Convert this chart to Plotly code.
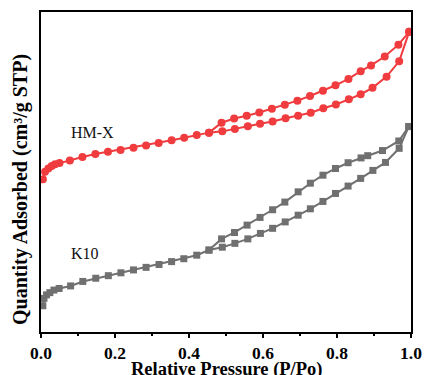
import plotly.graph_objects as go

# N2 sorption isotherms: relative pressure vs. quantity adsorbed (arbitrary units)
hmx_ads_p = [0.005, 0.011, 0.02, 0.029, 0.038, 0.05, 0.078, 0.112, 0.147, 0.181, 0.215, 0.25,
             0.284, 0.318, 0.353, 0.387, 0.421, 0.454, 0.49, 0.524, 0.559, 0.592, 0.626, 0.661,
             0.695, 0.729, 0.763, 0.797, 0.832, 0.864, 0.896, 0.934, 0.968, 0.995]
hmx_ads_q = [47.7, 50.1, 51.1, 51.9, 52.4, 52.8, 53.6, 54.7, 55.6, 56.3, 56.9, 57.6,
             58.3, 59.1, 59.9, 60.7, 61.6, 62.3, 62.7, 63.4, 64.3, 65.1, 65.8, 66.8,
             67.6, 68.5, 69.9, 71.1, 72.7, 74.3, 76.3, 79.8, 84.6, 93.8]
hmx_des_p = [0.995, 0.966, 0.929, 0.892, 0.864, 0.831, 0.796, 0.762, 0.727, 0.693, 0.659,
             0.624, 0.59, 0.556, 0.522, 0.488, 0.454]
hmx_des_q = [93.8, 89.8, 86.1, 83.3, 81.5, 79.1, 77.1, 75.4, 73.75, 72.3, 71.0,
             69.8, 68.6, 67.6, 66.7, 65.4, 62.3]

k10_ads_p = [0.005, 0.008, 0.015, 0.024, 0.035, 0.049, 0.08, 0.113, 0.148, 0.182, 0.216, 0.25,
             0.284, 0.319, 0.353, 0.386, 0.421, 0.454, 0.49, 0.524, 0.559, 0.593, 0.626, 0.66,
             0.695, 0.728, 0.762, 0.796, 0.83, 0.864, 0.897, 0.931, 0.968, 0.994]
k10_ads_q = [8.2, 10.5, 11.6, 12.3, 13.1, 13.6, 14.4, 15.8, 16.8, 17.6, 18.5, 19.4,
             20.2, 21.1, 22.0, 22.9, 24.0, 25.6, 26.5, 27.7, 29.1, 30.8, 32.4, 34.4,
             36.5, 38.5, 40.8, 43.3, 45.6, 48.0, 50.5, 53.0, 57.4, 64.2]
k10_des_p = [0.994, 0.967, 0.923, 0.883, 0.865, 0.83, 0.796, 0.762, 0.728, 0.695, 0.659,
             0.626, 0.592, 0.557, 0.523, 0.488, 0.454]
k10_des_q = [64.2, 59.7, 56.7, 55.1, 54.4, 52.9, 51.1, 49.0, 46.5, 43.8, 40.6,
             38.2, 35.8, 33.4, 31.1, 29.1, 25.6]

series_labels = ["HM-X", "K10"]
x_ticks = [0.0, 0.2, 0.4, 0.6, 0.8, 1.0]
x_tick_text = ["0.0", "0.2", "0.4", "0.6", "0.8", "1.0"]
x_title = "Relative Pressure (P/Po)"
y_title = "Quantity Adsorbed (cm³/g STP)"

RED = "#F03C3E"
GREY = "#707070"
SERIF = "Liberation Serif"

fig = go.Figure()


def branch(px, qy, color, symbol, size):
    fig.add_trace(go.Scatter(
        x=px, y=qy, mode="lines+markers",
        line=dict(color=color, width=2),
        marker=dict(color=color, symbol=symbol, size=size, line=dict(width=0)),
        showlegend=False, hoverinfo="skip",
    ))


branch(hmx_ads_p, hmx_ads_q, RED, "circle", 8)
branch(hmx_des_p, hmx_des_q, RED, "circle", 8)
branch(k10_ads_p, k10_ads_q, GREY, "square", 7)
branch(k10_des_p, k10_des_q, GREY, "square", 7)

# sample labels next to each isotherm
fig.add_annotation(x=0.139, y=62.5, text=series_labels[0], showarrow=False,
                   font=dict(family=SERIF, size=16, color="#111"))
fig.add_annotation(x=0.119, y=24.5, text=series_labels[1], showarrow=False,
                   font=dict(family=SERIF, size=16, color="#111"))

# axis titles placed in paper coordinates
fig.add_annotation(xref="paper", yref="paper", x=0.5, y=-0.116, yanchor="middle",
                   text=f"<b>{x_title}</b>", showarrow=False,
                   font=dict(family=SERIF, size=18.5, color="#000"))
fig.add_annotation(xref="paper", yref="paper", x=-0.054, y=0.444, xanchor="center",
                   yanchor="middle", textangle=-90,
                   text=f"<b>{y_title}</b>", showarrow=False,
                   font=dict(family=SERIF, size=20, color="#000"))

fig.update_layout(
    width=424, height=375,
    margin=dict(l=41, r=13, t=12, b=43),
    paper_bgcolor="white", plot_bgcolor="white",
    font=dict(family=SERIF, color="#000"),
)
fig.update_xaxes(
    range=[0, 1.0], tickvals=x_ticks, ticktext=[f"<b>{t}</b>" for t in x_tick_text],
    showgrid=False, zeroline=False,
    showline=True, linecolor="black", linewidth=2, mirror=True,
    ticks="outside", ticklen=4, tickwidth=1.5, tickcolor="black",
    minor=dict(dtick=0.1, tick0=0, ticks="outside", ticklen=2, tickwidth=1.5, tickcolor="black"),
    tickfont=dict(family=SERIF, size=17.5),
    automargin=False,
)
fig.update_yaxes(
    range=[0, 100], showticklabels=False, ticks="",
    showgrid=False, zeroline=False,
    showline=True, linecolor="black", linewidth=2, mirror=True,
    automargin=False,
)

fig.write_html("out.html")
